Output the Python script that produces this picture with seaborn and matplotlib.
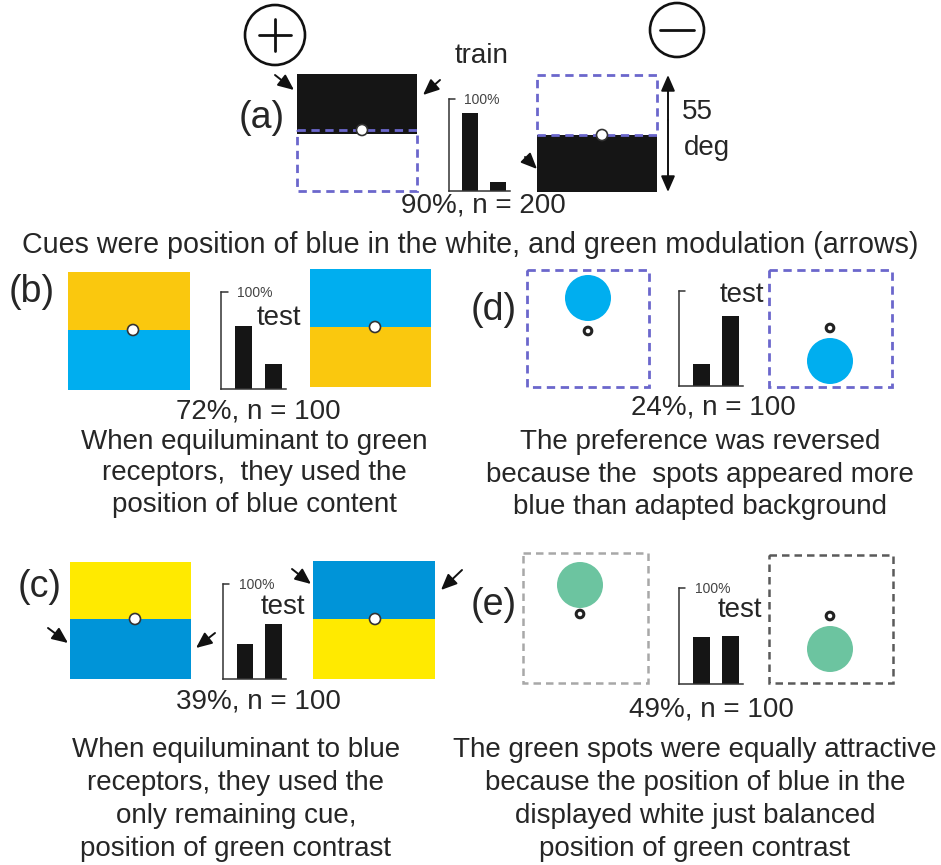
import matplotlib
matplotlib.use("Agg")
import matplotlib.pyplot as plt
import seaborn as sns
import pandas as pd
from matplotlib.patches import Rectangle, Circle

sns.set_theme(style="white")
plt.rcParams["font.family"] = ["Liberation Sans", "DejaVu Sans"]

# ---- data -------------------------------------------------------------
choice_labels = ["+", "\u2212"]
pct_a = [90, 10]
pct_b = [72, 28]
pct_c = [39, 61]
pct_d = [24, 76]
pct_e = [49, 51]
n_a, n_b, n_c, n_d, n_e = 200, 100, 100, 100, 100
phase_a = "train"
phase_test = "test"

caption_a = "Cues were position of blue in the white, and green modulation (arrows)"
caption_b = ["When equiluminant to green", "receptors,  they used the", "position of blue content"]
caption_c = ["When equiluminant to blue", "receptors, they used the", "only remaining cue,",
             "position of green contrast"]
caption_d = ["The preference was reversed", "because the  spots appeared more",
             "blue than adapted background"]
caption_e = ["The green spots were equally attractive", "because the position of blue in the",
             "displayed white just balanced", "position of green contrast"]

# ---- figure / canvas in pixel units -----------------------------------
W, H, DPI = 941, 865, 100
fig = plt.figure(figsize=(W / DPI, H / DPI), dpi=DPI, facecolor="white")
canvas = fig.add_axes([0, 0, 1, 1])
canvas.set_xlim(0, W)
canvas.set_ylim(H, 0)
canvas.axis("off")

INK = "#262626"
BLACK = "#151515"
PURPLE = "#6b67cc"
CYAN = "#00aeef"
ORANGE_YEL = "#fac80e"
LEMON = "#ffea00"
DEEP_BLUE = "#0094d8"
SPOT_GREEN = "#6cc4a0"
FONT = 20


def txt(x, y, s, size=FONT, **kw):
    canvas.text(x, y, s, fontsize=size, color=INK, ha=kw.pop("ha", "center"),
                va=kw.pop("va", "center"), **kw)


def rect(x0, y0, x1, y1, **kw):
    canvas.add_patch(Rectangle((x0, y0), x1 - x0, y1 - y0, **kw))


def dashed_box(x0, y0, x1, y1, color, lw=2.0):
    rect(x0, y0, x1, y1, fill=False, edgecolor=color, lw=lw, linestyle=(0, (3, 2)), zorder=3)


def fixation(x, y, r=5.5):
    canvas.add_patch(Circle((x, y), r, facecolor="white", edgecolor="#333333", lw=1.2, zorder=5))


def ring(x, y, r=3.8):
    canvas.add_patch(Circle((x, y), r, facecolor="white", edgecolor="#222222", lw=2.2, zorder=5))


def arrow(tail, tip, style="-|>,head_length=0.8,head_width=0.35"):
    canvas.annotate("", xy=tip, xytext=tail,
                    arrowprops=dict(arrowstyle=style, lw=1.4, color="#111111",
                                    shrinkA=0, shrinkB=0))


def bar_panel(box, values, top, show_pct=True):
    """Inset choice histogram; box = (left, top, right, bottom) in pixels."""
    x0, y0, x1, y1 = box
    bax = fig.add_axes([x0 / W, 1 - y1 / H, (x1 - x0) / W, (y1 - y0) / H])
    df = pd.DataFrame({"choice": choice_labels, "pct": values})
    sns.barplot(data=df, x="choice", y="pct", color=BLACK, saturation=1,
                width=0.58, ax=bax, edgecolor="none")
    bax.set_xlim(-0.76, 1.42)
    bax.set_ylim(0, top)
    bax.set(xlabel="", ylabel="", xticks=[], yticks=[])
    bax.set_facecolor("none")
    for side in ("top", "right"):
        bax.spines[side].set_visible(False)
    for side in ("left", "bottom"):
        bax.spines[side].set_visible(True)
        bax.spines[side].set_color("#333333")
        bax.spines[side].set_linewidth(1.1)
    bax.plot([0, 0.1], [1, 1], transform=bax.transAxes, color="#333333",
             lw=1.1, clip_on=False)
    if show_pct:
        bax.text(0.25, 0.985, "100%", transform=bax.transAxes, fontsize=10,
                 color="#444444", ha="left", va="center")
    return bax


# ---- (a) training ----------------------------------------------------
txt(262, 118, "(a)", size=27)
# plus / minus badges
canvas.add_patch(Circle((275, 35), 30, fill=False, edgecolor="#111111", lw=1.9))
canvas.plot([259, 291], [35, 35], color="#111111", lw=2.0)
canvas.plot([275, 275], [19, 51], color="#111111", lw=2.0)
canvas.add_patch(Circle((677, 30), 27, fill=False, edgecolor="#111111", lw=1.9))
canvas.plot([660, 694], [30, 30], color="#111111", lw=2.0)

rect(297, 74, 417, 134, facecolor=BLACK, edgecolor="none", zorder=2)
dashed_box(297, 130, 417, 191, PURPLE)
fixation(362, 130)
arrow((275, 75), (294, 90))
arrow((440, 80), (423, 95))

rect(537, 135, 657, 192, facecolor=BLACK, edgecolor="none", zorder=2)
dashed_box(537, 75, 657, 135, PURPLE)
fixation(602, 135)
arrow((525, 157), (537, 169))
arrow((668, 120), (668, 75))
arrow((668, 120), (668, 192))

txt(482, 56, phase_a)
txt(697, 112, "55")
txt(707, 148, "deg")
bar_panel((449, 99, 510, 191), pct_a, 106)
txt(483, 206, f"{pct_a[0]}%, n = {n_a}")
txt(470, 245, caption_a, size=20.6)

# ---- (b) yellow/blue, green-equiluminant ------------------------------
txt(32, 292, "(b)", size=27)
rect(68, 272, 190, 330, facecolor=ORANGE_YEL, edgecolor="none")
rect(68, 330, 190, 390, facecolor=CYAN, edgecolor="none")
fixation(133, 330)
rect(310, 269, 431, 327, facecolor=CYAN, edgecolor="none")
rect(310, 327, 431, 387, facecolor=ORANGE_YEL, edgecolor="none")
fixation(375, 327)
bar_panel((221, 292, 286, 389), pct_b, 110)
txt(279, 318, phase_test)
txt(258, 411, f"{pct_b[0]}%, n = {n_b}")
for i, line in enumerate(caption_b):
    txt(254, 442 + 31.5 * i, line)

# ---- (c) yellow/blue, blue-equiluminant -------------------------------
txt(40, 587, "(c)", size=27)
rect(70, 562, 191, 619, facecolor=LEMON, edgecolor="none")
rect(70, 619, 191, 679, facecolor=DEEP_BLUE, edgecolor="none")
fixation(135, 619)
arrow((48, 628), (68, 643))
arrow((215, 633), (196, 648))
rect(313, 561, 435, 619, facecolor=DEEP_BLUE, edgecolor="none")
rect(313, 619, 435, 679, facecolor=LEMON, edgecolor="none")
fixation(375, 619)
arrow((292, 569), (311, 584))
arrow((462, 570), (441, 590))
bar_panel((223, 584, 286, 679), pct_c, 106)
txt(283, 607, phase_test)
txt(258, 701, f"{pct_c[0]}%, n = {n_c}")
for i, line in enumerate(caption_c):
    txt(236, 750 + 33 * i, line)

# ---- (d) blue spots -----------------------------------------------------
txt(494, 310, "(d)", size=27)
dashed_box(527, 270, 649, 387, PURPLE)
canvas.add_patch(Circle((588, 298), 23, facecolor=CYAN, edgecolor="none"))
ring(588, 331)
dashed_box(769, 270, 892, 387, PURPLE)
canvas.add_patch(Circle((830, 361), 23, facecolor=CYAN, edgecolor="none"))
ring(830, 328)
bar_panel((679, 291, 743, 386), pct_d, 103, show_pct=False)
txt(742, 295, phase_test)
txt(713, 408, f"{pct_d[0]}%, n = {n_d}")
for i, line in enumerate(caption_d):
    txt(700, 442 + 32.5 * i, line)

# ---- (e) green spots ----------------------------------------------------
txt(494, 605, "(e)", size=27)
dashed_box(523, 553, 648, 683, "#a8a8a8", lw=1.8)
canvas.add_patch(Circle((580, 585), 23, facecolor=SPOT_GREEN, edgecolor="none"))
ring(580, 614)
dashed_box(769, 555, 893, 683, "#5a5a5a", lw=1.8)
canvas.add_patch(Circle((830, 649), 23, facecolor=SPOT_GREEN, edgecolor="none"))
ring(830, 616)
bar_panel((679, 588, 743, 684), pct_e, 101)
txt(740, 610, phase_test)
txt(711, 709, f"{pct_e[0]}%, n = {n_e}")
for i, line in enumerate(caption_e):
    txt(695, 750 + 33 * i, line)

fig.savefig("out.png", dpi=DPI, facecolor="white")
